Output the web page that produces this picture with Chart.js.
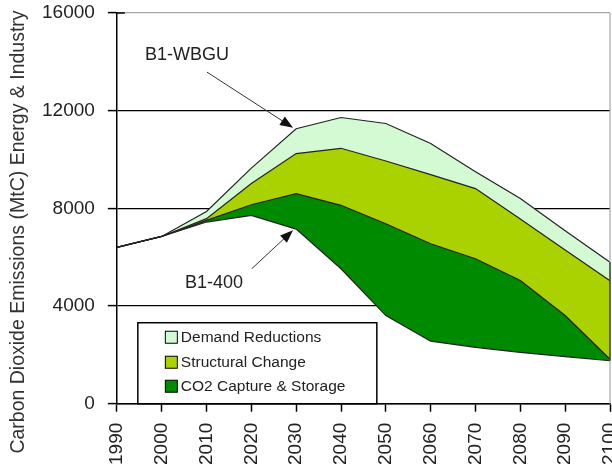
<!DOCTYPE html>
<html>
<head>
<meta charset="utf-8">
<script src="https://cdn.jsdelivr.net/npm/chart.js@4/dist/chart.umd.min.js"></script>
<style>
  body { margin: 0; background: #fff; }
  canvas { display: block; }
</style>
</head>
<body>
<canvas id="emissionsChart" width="612" height="470"></canvas>
<script>
// years on the x axis
var years = ['1990','2000','2010','2020','2030','2040','2050','2060','2070','2080','2090','2100'];
// boundary lines of the stacked wedges (MtC)
var b1_400      = [6400, 6850, 7440, 7710, 7150, 5525, 3610, 2560, 2310, 2100, 1930, 1760];
var withCCS     = [6400, 6850, 7510, 8150, 8600, 8125, 7370, 6550, 5935, 5045, 3610, 1820];
var withStruct  = [6400, 6850, 7580, 9020, 10245, 10460, 9940, 9380, 8810, 7560, 6300, 5040];
var b1_wbgu     = [6400, 6850, 7870, 9650, 11260, 11720, 11475, 10655, 9500, 8400, 7080, 5790];
var yTicks = [0, 4000, 8000, 12000, 16000];
var yTitle = 'Carbon Dioxide Emissions (MtC) Energy & Industry';
var legendNames = ['Demand Reductions', 'Structural Change', 'CO2 Capture & Storage'];
var legendColors = ['#d4fad4', '#aad200', '#008a00'];

var FONT = "'Liberation Sans', Arial, sans-serif";

function arrow(ctx, x0, y0, x1, y1) {
  var a = Math.atan2(y1 - y0, x1 - x0), L = 13, W = 5;
  ctx.strokeStyle = '#333';
  ctx.fillStyle = '#111';
  ctx.lineWidth = 1;
  ctx.beginPath();
  ctx.moveTo(x0, y0);
  ctx.lineTo(x1 - L * 0.8 * Math.cos(a), y1 - L * 0.8 * Math.sin(a));
  ctx.stroke();
  ctx.beginPath();
  ctx.moveTo(x1, y1);
  ctx.lineTo(x1 - L * Math.cos(a) + W * Math.sin(a), y1 - L * Math.sin(a) - W * Math.cos(a));
  ctx.lineTo(x1 - L * Math.cos(a) - W * Math.sin(a), y1 - L * Math.sin(a) + W * Math.cos(a));
  ctx.closePath();
  ctx.fill();
}

var overlay = {
  id: 'overlay',
  afterDatasetsDraw: function(chart) {
    var ctx = chart.ctx, area = chart.chartArea;
    var xs = chart.scales.x, ys = chart.scales.y;
    var xp = function(yr) { return xs.getPixelForValue((yr - 1990) / 10); };
    var yp = function(v) { return ys.getPixelForValue(v); };
    ctx.save();
    // right frame (gray) and dark edge of the wedges at 2100
    ctx.strokeStyle = '#a8a8a8';
    ctx.lineWidth = 1.2;
    ctx.beginPath();
    ctx.moveTo(area.right, area.top);
    ctx.lineTo(area.right, area.bottom);
    ctx.stroke();
    var last = years.length - 1;
    ctx.strokeStyle = '#222';
    ctx.beginPath();
    ctx.moveTo(xs.getPixelForValue(last), yp(b1_wbgu[last]));
    ctx.lineTo(xs.getPixelForValue(last), yp(b1_400[last]));
    ctx.stroke();
    // inner half of the top y tick
    ctx.strokeStyle = '#000';
    ctx.lineWidth = 1.5;
    ctx.beginPath();
    ctx.moveTo(area.left, yp(16000));
    ctx.lineTo(area.left + 8, yp(16000));
    ctx.stroke();

    // annotations
    ctx.font = '18px ' + FONT;
    ctx.fillStyle = '#222';
    ctx.textBaseline = 'middle';
    ctx.textAlign = 'left';
    ctx.fillText('B1-WBGU', xp(1996.3), yp(14280));
    arrow(ctx, xp(2010.1), yp(13580), xp(2029.3), yp(11300));
    ctx.fillStyle = '#222';
    ctx.fillText('B1-400', xp(2005.2), yp(4960));
    arrow(ctx, xp(2020.1), yp(5530), xp(2029.3), yp(7100));

    // legend box
    var lx = area.left + 21, ly = area.bottom - 81, lw = 239, lh = 81;
    ctx.fillStyle = '#fff';
    ctx.fillRect(lx, ly, lw, lh);
    ctx.strokeStyle = '#000';
    ctx.lineWidth = 1.5;
    ctx.strokeRect(lx, ly, lw, lh);
    ctx.font = '15.5px ' + FONT;
    var rows = [67, 42, 18];
    for (var i = 0; i < legendNames.length; i++) {
      var cy = area.bottom - rows[i];
      ctx.fillStyle = legendColors[i];
      ctx.fillRect(area.left + 48.5, cy - 5.5, 12, 12);
      ctx.strokeStyle = '#000';
      ctx.lineWidth = 1;
      ctx.strokeRect(area.left + 48.5, cy - 5.5, 12, 12);
      ctx.fillStyle = '#222';
      ctx.fillText(legendNames[i], area.left + 64, cy + 1);
    }

    // y axis title, placed a little below centre like the original
    ctx.translate(19, 232);
    ctx.rotate(-Math.PI / 2);
    ctx.textAlign = 'center';
    ctx.font = '19.5px ' + FONT;
    ctx.fillStyle = '#333';
    ctx.fillText(yTitle, 0, 0);
    ctx.restore();
  }
};

var lineStyle = { borderColor: '#222', borderWidth: 1.2, pointRadius: 0, tension: 0 };

var ctx = document.getElementById('emissionsChart').getContext('2d');
var emissionsChart = new Chart(ctx, {
  type: 'line',
  data: {
    labels: years,
    datasets: [
      Object.assign({ label: 'B1-400', data: b1_400, fill: false }, lineStyle),
      Object.assign({ label: legendNames[2], data: withCCS, fill: '-1', backgroundColor: legendColors[2] }, lineStyle),
      Object.assign({ label: legendNames[1], data: withStruct, fill: '-1', backgroundColor: legendColors[1] }, lineStyle),
      Object.assign({ label: legendNames[0], data: b1_wbgu, fill: '-1', backgroundColor: legendColors[0] }, lineStyle)
    ]
  },
  options: {
    responsive: false,
    animation: false,
    layout: { padding: { left: 42, top: 13, right: 2, bottom: 5 } },
    plugins: { legend: { display: false }, tooltip: { enabled: false } },
    scales: {
      x: {
        grid: { drawOnChartArea: false, drawTicks: true, tickLength: 8, tickColor: '#000', tickWidth: 1.5 },
        border: { color: '#000', width: 1.5 },
        ticks: { autoSkip: false, minRotation: 90, maxRotation: 90, padding: 11, color: '#222', font: { family: FONT, size: 19 } },
        afterFit: function(scale) { scale.paddingRight = 0; scale.paddingLeft = 0; scale.height -= 11; }
      },
      y: {
        min: 0, max: 16000,
        afterBuildTicks: function(scale) { scale.ticks = yTicks.map(function(v) { return { value: v }; }); },
        afterFit: function(scale) { scale.paddingTop = 0; scale.paddingBottom = 0; scale.width -= 13; },
        grid: {
          color: function(c) { return c.tick && c.tick.value === 16000 ? '#a8a8a8' : '#000'; },
          lineWidth: 1.2, tickLength: 9, tickColor: '#000', tickWidth: 1.5
        },
        border: { color: '#000', width: 1.5 },
        ticks: {
          padding: 13, color: '#222', font: { family: FONT, size: 19 },
          callback: function(v) { return String(v); }
        }
      }
    }
  },
  plugins: [overlay]
});
</script>
</body>
</html>
